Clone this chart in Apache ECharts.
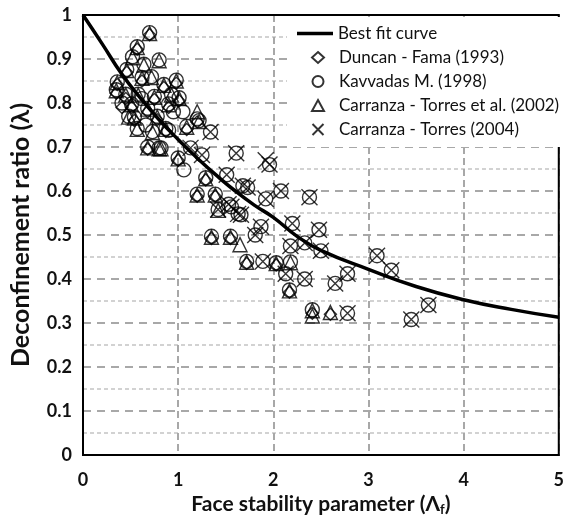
<!DOCTYPE html>
<html>
<head>
<meta charset="utf-8">
<script src="https://cdn.jsdelivr.net/npm/echarts@6/dist/echarts.min.js"></script>
<style>
  html, body { margin: 0; padding: 0; background: #fff; }
  #chart { width: 567px; height: 521px; }
</style>
</head>
<body>
<div id="chart"></div>
<script>
// best fit curve
const curveX = [0, 0.2, 0.4, 0.6, 0.8, 1.0, 1.2, 1.4, 1.6, 1.8, 2.0, 2.25, 2.5, 3.0, 3.5, 4.0, 4.5, 5.0]
const curveY = [1.0, 0.935, 0.868, 0.812, 0.762, 0.717, 0.675, 0.636, 0.6, 0.568, 0.54, 0.497, 0.465, 0.422, 0.383, 0.353, 0.331, 0.313]

const duncanFama = [
  [0.70, 0.955], [0.57, 0.922], [0.46, 0.87], [0.36, 0.842], [0.35, 0.822], [0.51, 0.79],
  [0.54, 0.76], [0.68, 0.78], [0.78, 0.762], [0.75, 0.808], [0.98, 0.845], [1.01, 0.805],
  [0.85, 0.835], [0.62, 0.85], [0.9, 0.79], [0.41, 0.79], [0.45, 0.81], [1.09, 0.74],
  [1.2, 0.757], [0.87, 0.735], [0.68, 0.695], [1.0, 0.67], [1.29, 0.625], [1.2, 0.588],
  [1.39, 0.588], [2.41, 0.322], [2.6, 0.32], [1.72, 0.435], [2.03, 0.432], [2.17, 0.37],
  [1.35, 0.492], [1.55, 0.492]
]

const kavvadas = [
  [0.70, 0.96], [0.57, 0.928], [0.80, 0.898], [0.52, 0.905], [0.46, 0.876], [0.36, 0.848],
  [0.35, 0.83], [0.64, 0.888], [0.62, 0.858], [0.51, 0.798], [0.54, 0.768], [0.57, 0.742],
  [1.01, 0.812], [0.98, 0.852], [0.85, 0.842], [0.75, 0.815], [0.68, 0.788], [0.78, 0.77],
  [0.87, 0.742], [1.09, 0.747], [1.2, 0.764], [0.73, 0.735], [0.68, 0.70], [0.80, 0.698],
  [0.9, 0.798], [0.9, 0.738], [0.45, 0.82], [0.62, 0.81], [0.95, 0.78], [0.41, 0.80],
  [1.22, 0.76], [1.0, 0.675], [0.82, 0.698], [1.06, 0.648], [1.13, 0.698], [1.25, 0.682],
  [1.2, 0.593], [1.29, 0.63], [1.39, 0.593], [1.42, 0.558], [1.34, 0.734], [1.61, 0.686],
  [1.51, 0.637], [1.68, 0.612], [1.53, 0.57], [1.63, 0.548], [1.73, 0.608], [1.56, 0.564],
  [1.66, 0.546], [1.35, 0.497], [1.55, 0.497], [1.72, 0.44], [1.89, 0.44], [2.03, 0.437],
  [2.18, 0.439], [2.17, 0.375], [2.41, 0.33], [1.96, 0.66], [2.08, 0.6], [1.92, 0.582],
  [2.38, 0.586], [2.2, 0.526], [2.48, 0.512], [2.13, 0.412], [2.33, 0.4], [2.5, 0.464],
  [2.18, 0.475], [2.65, 0.39], [2.78, 0.412], [3.09, 0.453], [3.24, 0.42], [2.78, 0.322],
  [3.45, 0.308], [3.63, 0.341], [1.87, 0.519], [1.81, 0.5], [2.33, 0.482],
  [0.58, 0.82], [0.72, 0.86], [0.66, 0.75], [0.48, 0.77], [0.93, 0.82], [1.05, 0.78]
]

const carranza2002 = [
  [0.70, 0.958], [0.57, 0.926], [0.80, 0.896], [0.52, 0.903], [0.46, 0.874], [0.36, 0.846],
  [0.35, 0.828], [0.64, 0.886], [0.62, 0.856], [0.51, 0.796], [0.54, 0.766], [0.57, 0.74],
  [1.01, 0.81], [0.98, 0.85], [0.85, 0.84], [0.75, 0.813], [0.68, 0.786], [0.78, 0.768],
  [0.87, 0.74], [1.09, 0.745], [1.2, 0.78], [0.73, 0.733], [0.68, 0.698], [0.80, 0.696],
  [0.9, 0.796], [0.45, 0.818], [1.22, 0.758], [1.0, 0.673], [0.82, 0.696], [1.2, 0.591],
  [1.29, 0.628], [1.39, 0.591], [1.42, 0.556], [1.35, 0.495], [1.55, 0.495], [1.65, 0.478],
  [1.72, 0.438], [2.03, 0.435], [2.18, 0.437], [2.17, 0.373], [2.41, 0.328], [2.41, 0.316],
  [2.6, 0.324], [0.58, 0.818], [0.72, 0.858], [0.48, 0.768], [0.93, 0.818]
]

const carranza2004 = [
  [1.34, 0.734], [1.61, 0.686], [1.92, 0.67], [1.51, 0.637], [1.68, 0.612], [1.53, 0.57],
  [1.63, 0.548], [1.96, 0.66], [2.08, 0.6], [1.92, 0.582], [2.38, 0.586], [2.2, 0.526],
  [2.48, 0.512], [1.73, 0.608], [1.89, 0.44], [2.13, 0.412], [2.33, 0.4], [2.5, 0.464],
  [2.18, 0.475], [2.65, 0.39], [2.78, 0.412], [3.09, 0.453], [3.24, 0.42], [2.78, 0.322],
  [3.45, 0.308], [3.63, 0.341], [1.87, 0.519], [1.81, 0.5], [1.66, 0.546], [1.56, 0.564],
  [2.33, 0.482], [1.25, 0.682], [1.13, 0.698], [1.42, 0.558]
]

const FONT = 'Lato'
const hollow = { color: 'rgba(0,0,0,0)', borderColor: '#000', borderWidth: 1.4 }
const legendText = { fontFamily: FONT, fontSize: 17, color: '#111' }

const chart = echarts.init(document.getElementById('chart'))
chart.setOption({
  animation: false,
  grid: {
    left: 83, right: 3, top: 15, bottom: 59,
    show: true, borderColor: '#000', borderWidth: 2, z: 3
  },
  legend: [
    {
      // white box + curve entry
      orient: 'vertical',
      left: 287,
      top: 17,
      padding: [8, 123, 105, 10],
      backgroundColor: '#fff',
      itemWidth: 36,
      itemHeight: 10,
      textStyle: legendText,
      data: [{ name: 'Best fit curve', icon: 'path://M0,0H40V4H0Z' }]
    },
    {
      orient: 'vertical',
      left: 311,
      top: 49,
      padding: 0,
      z: 6,
      itemWidth: 12,
      itemHeight: 11,
      itemGap: 7,
      textStyle: Object.assign({ padding: [0, 0, 0, 10] }, legendText),
      data: ['Duncan - Fama (1993)', 'Kavvadas M. (1998)',
        'Carranza - Torres et al. (2002)', 'Carranza - Torres (2004)']
    }
  ],
  xAxis: {
    type: 'value',
    min: 0,
    max: 5,
    interval: 1,
    name: 'Face stability parameter (Λ{sub|f})',
    nameLocation: 'middle',
    nameGap: 38,
    nameTextStyle: {
      fontFamily: FONT, fontSize: 21, fontWeight: 'bold', color: '#111',
      rich: { sub: { fontFamily: FONT, fontSize: 13, fontWeight: 'bold', color: '#111', verticalAlign: 'bottom', padding: [10, 0, 0, 0] } }
    },
    axisLine: { lineStyle: { color: '#000', width: 2 } },
    axisTick: { show: false },
    axisLabel: { fontFamily: FONT, fontSize: 18, fontWeight: 'bold', color: '#111', margin: 16 },
    splitLine: { show: true, lineStyle: { color: '#a8a8a8', width: 2, type: [7, 4] } }
  },
  yAxis: {
    type: 'value',
    min: 0,
    max: 1,
    interval: 0.1,
    name: 'Deconfinement ratio (λ)',
    nameLocation: 'middle',
    nameGap: 50,
    nameTextStyle: { fontFamily: FONT, fontSize: 25, fontWeight: 'bold', color: '#111' },
    axisLine: { show: true, lineStyle: { color: '#000', width: 2 } },
    axisTick: { show: false },
    axisLabel: { fontFamily: FONT, fontSize: 18, fontWeight: 'bold', color: '#111', margin: 11 },
    splitLine: { show: true, lineStyle: { color: '#a8a8a8', width: 2, type: [8, 6] } },
    minorTick: { show: false, splitNumber: 2 },
    minorSplitLine: { show: true, lineStyle: { color: '#c4c4c4', width: 1.5, type: [4, 3] } }
  },
  series: [
    {
      name: 'Duncan - Fama (1993)',
      type: 'scatter',
      symbol: 'diamond',
      symbolSize: 12,
      itemStyle: hollow,
      data: duncanFama
    },
    {
      name: 'Kavvadas M. (1998)',
      type: 'scatter',
      symbol: 'circle',
      symbolSize: 14,
      itemStyle: hollow,
      data: kavvadas
    },
    {
      name: 'Carranza - Torres et al. (2002)',
      type: 'scatter',
      symbol: 'triangle',
      symbolSize: 14,
      itemStyle: hollow,
      data: carranza2002
    },
    {
      name: 'Carranza - Torres (2004)',
      type: 'scatter',
      symbol: 'path://M0,0L10,10M10,0L0,10',
      symbolSize: 16,
      itemStyle: hollow,
      data: carranza2004
    },
    {
      name: 'Best fit curve',
      type: 'line',
      smooth: true,
      showSymbol: false,
      symbol: 'none',
      z: 5,
      lineStyle: { color: '#000', width: 3.5 },
      itemStyle: { color: '#000' },
      data: curveX.map((x, i) => [x, curveY[i]])
    }
  ]
})
</script>
</body>
</html>
